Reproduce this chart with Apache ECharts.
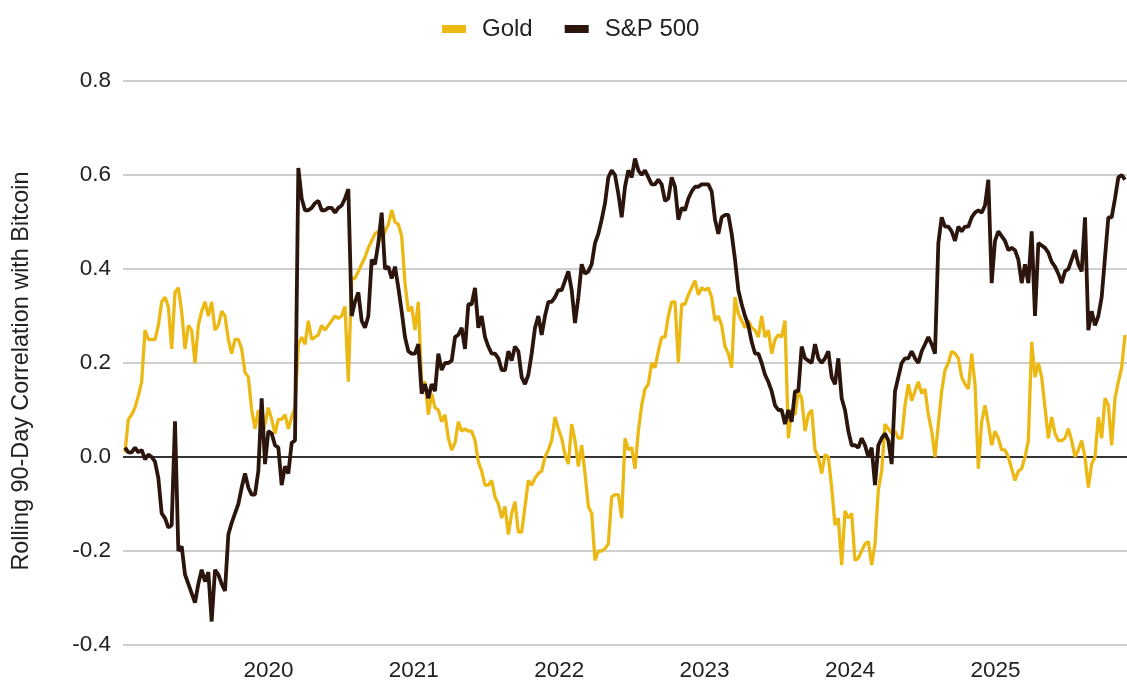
<!DOCTYPE html>
<html>
<head>
<meta charset="utf-8">
<script src="https://cdn.jsdelivr.net/npm/echarts@6/dist/echarts.min.js"></script>
<style>
  html, body { margin: 0; padding: 0; background: #fff; }
  #chart { width: 1127px; height: 681px; }
</style>
</head>
<body>
<div id="chart"></div>
<script>
// first sample just after 1 Jan 2019, then one sample every ~8.4 days
const startYear = 2019.0138;
const stepYear = 0.022925;
const yearTicks = [2020, 2021, 2022, 2023, 2024, 2025];

// rolling 90-day correlation of gold with bitcoin
const gold = [
  0.01, 0.08, 0.09, 0.105, 0.13, 0.16, 0.27, 0.25, 0.25, 0.25, 0.28, 0.33, 0.34, 0.32, 0.23, 0.35, 0.36, 0.31, 0.23, 0.28,
  0.27, 0.20, 0.28, 0.31, 0.33, 0.30, 0.33, 0.27, 0.28, 0.31, 0.30, 0.25, 0.22, 0.25, 0.25, 0.23, 0.18, 0.17, 0.10, 0.06,
  0.10, 0.04, 0.07, 0.105, 0.08, 0.05, 0.08, 0.08, 0.09,
  0.06, 0.085, 0.105, 0.24, 0.255, 0.24, 0.29, 0.25, 0.255, 0.26, 0.28, 0.27, 0.28, 0.29, 0.30, 0.295, 0.30, 0.32, 0.16, 0.38,
  0.38, 0.395, 0.41, 0.425, 0.445, 0.46, 0.475, 0.48, 0.46, 0.48, 0.495, 0.525, 0.50, 0.495, 0.47, 0.37, 0.31, 0.32, 0.27, 0.33,
  0.155, 0.16, 0.09, 0.135, 0.105, 0.10, 0.075, 0.09, 0.04, 0.015, 0.03,
  0.075, 0.055, 0.06, 0.055, 0.055, 0.035, -0.01, -0.03, -0.06, -0.06, -0.05, -0.085, -0.10, -0.13, -0.105, -0.165, -0.12, -0.095, -0.16, -0.16,
  -0.105, -0.05, -0.06, -0.045, -0.035, -0.03, 0.0, 0.015, 0.035, 0.085, 0.06, 0.04, 0.005, -0.015, 0.07, 0.035, -0.02, 0.025, -0.035, -0.105,
  -0.12, -0.22, -0.20, -0.20, -0.195, -0.185, -0.085, -0.08, -0.08, -0.13, 0.04,
  0.015, 0.02, -0.025, 0.055, 0.11, 0.145, 0.155, 0.20, 0.19, 0.225, 0.255, 0.255, 0.30, 0.33, 0.33, 0.20, 0.325, 0.325, 0.345, 0.36,
  0.375, 0.345, 0.36, 0.355, 0.36, 0.34, 0.29, 0.30, 0.28, 0.235, 0.22, 0.19, 0.34, 0.305, 0.29, 0.275, 0.29, 0.275, 0.27, 0.255,
  0.30, 0.255, 0.27, 0.22, 0.25, 0.26, 0.255, 0.29, 0.04, 0.10, 0.09,
  0.14, 0.125, 0.055, 0.09, 0.10, 0.015, 0.0, -0.035, 0.005, 0.0, -0.065, -0.145, -0.13, -0.23, -0.115, -0.13, -0.12, -0.22, -0.215, -0.20,
  -0.185, -0.18, -0.23, -0.185, -0.07, -0.03, 0.07, 0.06, 0.05, 0.055, 0.04, 0.04, 0.11, 0.155, 0.12, 0.14, 0.16, 0.135, 0.145, 0.09,
  0.055, 0.0, 0.07, 0.14, 0.185, 0.20, 0.225, 0.22, 0.21, 0.17, 0.155,
  0.145, 0.22, 0.155, -0.025, 0.075, 0.11, 0.07, 0.025, 0.055, 0.04, 0.015, 0.015, 0.0, -0.025, -0.05, -0.03, -0.025, 0.0, 0.035, 0.245,
  0.17, 0.20, 0.17, 0.105, 0.04, 0.085, 0.05, 0.035, 0.035, 0.04, 0.06, 0.035, 0.0, 0.015, 0.035, 0.0, -0.065, -0.015, 0.0, 0.085,
  0.04, 0.125, 0.11, 0.025, 0.125, 0.16, 0.19, 0.26
];

// rolling 90-day correlation of the S&P 500 with bitcoin
const sp500 = [
  0.02, 0.01, 0.01, 0.02, 0.01, 0.015, -0.005, 0.005, 0.0, -0.01, -0.045, -0.12, -0.13, -0.15, -0.145, 0.076, -0.20, -0.19, -0.25, -0.27,
  -0.29, -0.31, -0.27, -0.24, -0.265, -0.245, -0.35, -0.24, -0.25, -0.27, -0.285, -0.165, -0.14, -0.12, -0.10, -0.065, -0.035, -0.065, -0.08, -0.08,
  -0.03, 0.125, -0.015, 0.055, 0.05, 0.025, 0.02, -0.06, -0.02,
  -0.035, 0.03, 0.035, 0.615, 0.55, 0.525, 0.525, 0.53, 0.54, 0.545, 0.525, 0.525, 0.53, 0.53, 0.52, 0.53, 0.535, 0.55, 0.57, 0.30,
  0.33, 0.35, 0.29, 0.275, 0.30, 0.42, 0.41, 0.455, 0.52, 0.40, 0.405, 0.38, 0.405, 0.36, 0.31, 0.255, 0.225, 0.22, 0.22, 0.24,
  0.135, 0.155, 0.125, 0.155, 0.14, 0.22, 0.185, 0.20, 0.20, 0.205, 0.255,
  0.26, 0.275, 0.23, 0.325, 0.325, 0.36, 0.275, 0.30, 0.255, 0.235, 0.22, 0.22, 0.21, 0.185, 0.185, 0.225, 0.205, 0.235, 0.225, 0.17,
  0.155, 0.175, 0.22, 0.275, 0.30, 0.26, 0.30, 0.33, 0.33, 0.34, 0.355, 0.355, 0.375, 0.395, 0.355, 0.285, 0.34, 0.41, 0.39, 0.395,
  0.41, 0.455, 0.475, 0.505, 0.54, 0.595, 0.61, 0.60, 0.56, 0.51, 0.575,
  0.61, 0.595, 0.635, 0.61, 0.60, 0.61, 0.595, 0.58, 0.58, 0.59, 0.58, 0.545, 0.55, 0.595, 0.575, 0.505, 0.53, 0.525, 0.55, 0.565,
  0.575, 0.575, 0.58, 0.58, 0.58, 0.565, 0.505, 0.475, 0.51, 0.515, 0.515, 0.475, 0.42, 0.355, 0.325, 0.30, 0.28, 0.245, 0.22, 0.22,
  0.20, 0.175, 0.16, 0.14, 0.11, 0.10, 0.10, 0.07, 0.10, 0.075, 0.14,
  0.14, 0.235, 0.21, 0.205, 0.20, 0.24, 0.21, 0.20, 0.21, 0.225, 0.17, 0.155, 0.21, 0.125, 0.10, 0.055, 0.025, 0.025, 0.02, 0.04,
  0.025, 0.0, 0.02, -0.06, 0.025, 0.04, 0.05, 0.035, -0.015, 0.14, 0.17, 0.20, 0.21, 0.21, 0.225, 0.21, 0.20, 0.225, 0.24, 0.255,
  0.24, 0.22, 0.455, 0.51, 0.49, 0.49, 0.48, 0.46, 0.49, 0.48, 0.49,
  0.49, 0.51, 0.52, 0.525, 0.52, 0.535, 0.59, 0.37, 0.46, 0.48, 0.47, 0.46, 0.44, 0.445, 0.44, 0.42, 0.37, 0.41, 0.37, 0.48,
  0.30, 0.455, 0.45, 0.445, 0.435, 0.415, 0.405, 0.39, 0.37, 0.395, 0.40, 0.42, 0.44, 0.41, 0.395, 0.51, 0.27, 0.31, 0.28, 0.30,
  0.34, 0.425, 0.51, 0.51, 0.55, 0.595, 0.60, 0.59
];

const years = gold.map((v, i) => startYear + i * stepYear);

const myChart = echarts.init(document.getElementById('chart'));
const option = {
  animation: false,
  textStyle: { fontFamily: 'Liberation Sans, Arial, sans-serif' },
  legend: {
    top: 12,
    left: 437,
    icon: 'rect',
    itemWidth: 24,
    itemHeight: 8,
    itemGap: 32,
    textStyle: { fontSize: 24, color: '#222', padding: [0, 0, 0, 11] },
    data: ['Gold', 'S&P 500']
  },
  grid: { left: 123, right: 0, top: 81, bottom: 36, containLabel: false, outerBoundsMode: 'none' },
  xAxis: {
    type: 'value',
    min: 2019.0,
    max: 2025.905,
    axisLine: { show: false },
    axisTick: { show: false },
    splitLine: { show: false },
    axisLabel: {
      customValues: yearTicks,
      formatter: v => String(Math.round(v)),
      fontSize: 22.5,
      color: '#222',
      margin: 14
    }
  },
  yAxis: {
    type: 'value',
    min: -0.4,
    max: 0.8,
    interval: 0.2,
    name: 'Rolling 90-Day Correlation with Bitcoin',
    nameLocation: 'middle',
    nameGap: 90,
    nameTextStyle: { fontSize: 23.4, color: '#222', padding: [0, 16, 0, 0] },
    axisLine: { show: false },
    axisTick: { show: false },
    axisLabel: {
      fontSize: 22.5,
      color: '#222',
      margin: 12,
      formatter: v => v.toFixed(1)
    },
    // the 0.0 line is drawn darker
    splitLine: {
      lineStyle: {
        color: ['#cfcfcf', '#cfcfcf', '#333333', '#cfcfcf', '#cfcfcf', '#cfcfcf', '#cfcfcf'],
        width: 1.8
      }
    }
  },
  series: [
    {
      name: 'Gold',
      type: 'line',
      data: years.map((y, i) => [y, gold[i]]),
      showSymbol: false,
      lineStyle: { width: 3.3, color: '#EBB814' },
      itemStyle: { color: '#EBB814' }
    },
    {
      name: 'S&P 500',
      type: 'line',
      data: years.map((y, i) => [y, sp500[i]]),
      showSymbol: false,
      lineStyle: { width: 3.8, color: '#2B150C' },
      itemStyle: { color: '#2B150C' }
    }
  ]
};
myChart.setOption(option);
window.addEventListener('resize', () => {
  myChart.resize();
});
</script>
</body>
</html>
